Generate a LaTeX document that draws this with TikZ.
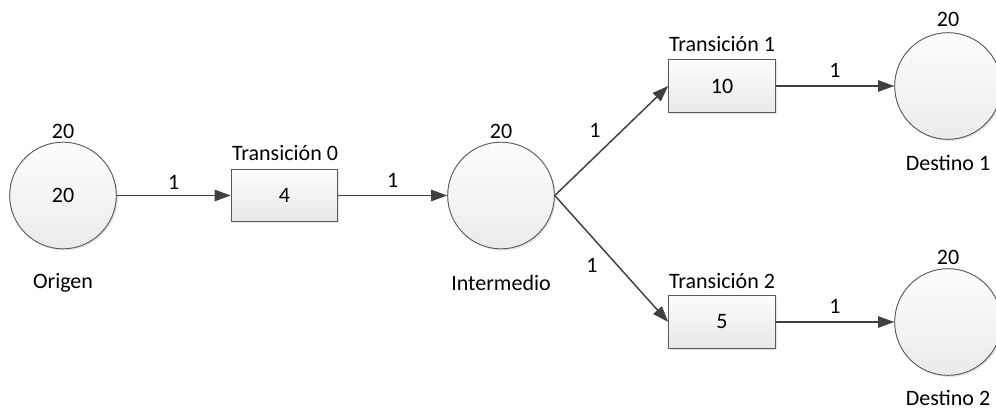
\documentclass[tikz,border=0pt]{standalone}
\usepackage{fontspec}
\setmainfont{Carlito}
\usetikzlibrary{arrows.meta,shadows}
\definecolor{edgegray}{HTML}{404040}
\definecolor{bordergray}{HTML}{5A5A5A}
\tikzset{
  place/.style={circle, draw=bordergray, line width=0.7pt, minimum size=80pt, inner sep=0pt,
    top color=white!99.5!black, bottom color=white!92!black,
    drop shadow={shadow xshift=1.2pt, shadow yshift=-1.2pt, fill=black!20, opacity=0.5}},
  trans/.style={rectangle, draw=bordergray, line width=0.7pt, minimum width=80pt, minimum height=39.5pt, inner sep=0pt,
    top color=white!99!black, bottom color=white!91!black,
    drop shadow={shadow xshift=1.2pt, shadow yshift=-1.2pt, fill=black!20, opacity=0.5}},
  txt/.style={inner sep=0pt, font=\fontsize{16.5pt}{19pt}\selectfont},
  arc/.style={draw=edgegray, line width=1.1pt, -{Triangle[length=12pt,width=8.5pt]}},
}
\begin{document}
\begin{tikzpicture}[x=0.75pt,y=-0.75pt]
\clip (0,0) rectangle (996,412);
\useasboundingbox (0,0) rectangle (996,412);
% places
\node[place, txt] (orig) at (63,195.5) {20};
\node[place] (inter) at (501,195.5) {};
\node[place] (dest1) at (948,86) {};
\node[place] (dest2) at (948,322) {};
% transitions
\node[trans, txt] (t0) at (284.5,195.5) {4};
\node[trans, txt] (t1) at (722,86) {10};
\node[trans, txt] (t2) at (722,322) {5};
% labels
\node[txt] (lorig20) at (63,131) {20};
\node[txt] (lorig) at (63,283) {Origen};
\node[txt] (lt0) at (285,153) {Transición 0};
\node[txt] (linter20) at (501,131) {20};
\node[txt] (linter) at (501,283) {Intermedio};
\node[txt] (lt1) at (722,44) {Transición 1};
\node[txt] (lt2) at (722,281) {Transición 2};
\node[txt] (ld120) at (948,19) {20};
\node[txt] (ld1) at (948,163) {Destino 1};
\node[txt] (ld220) at (948,257) {20};
\node[txt] (ld2) at (948,398) {Destino 2};
% arcs
\draw[arc] (orig.east) -- node[txt, pos=0.5, yshift=10pt] (w0) {1} (t0.west);
\draw[arc] (t0.east) -- node[txt, pos=0.5, yshift=11pt] (w1) {1} (inter.west);
\draw[arc] (inter.east) -- (t1.west);
\draw[arc] (inter.east) -- (t2.west);
\draw[arc] (t1.east) -- node[txt, pos=0.5, yshift=12pt] (w4) {1} (dest1.west);
\draw[arc] (t2.east) -- node[txt, pos=0.5, yshift=12pt] (w5) {1} (dest2.west);
\node[txt] (w2) at (595,130) {1};
\node[txt] (w3) at (592,265) {1};
\end{tikzpicture}
\end{document}
